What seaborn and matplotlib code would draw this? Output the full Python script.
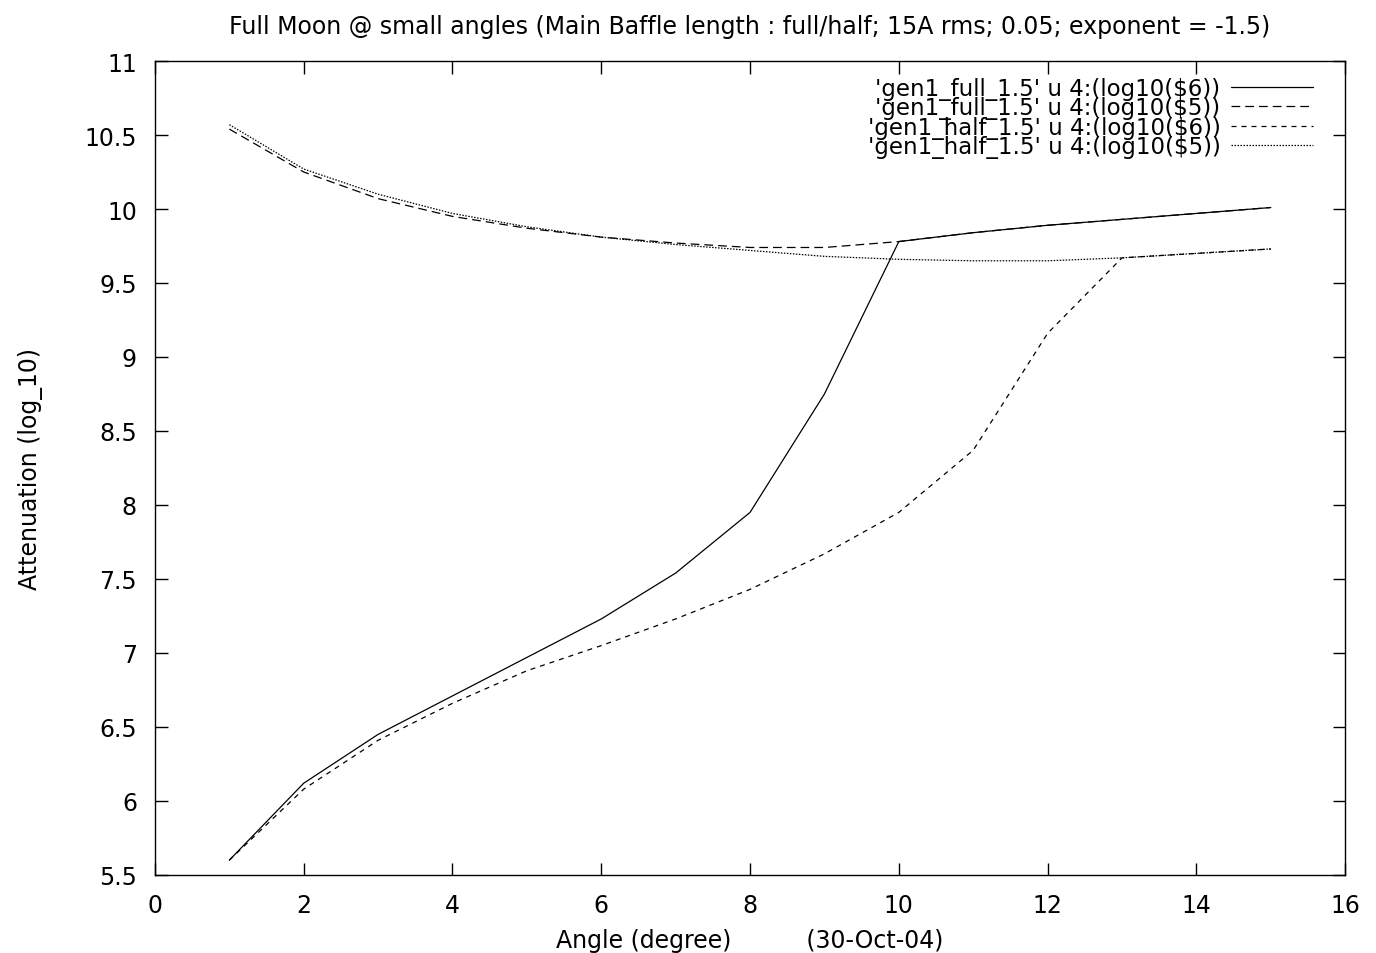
import numpy as np
import pandas as pd
import seaborn as sns
import matplotlib
matplotlib.use("Agg")
import matplotlib.pyplot as plt
from matplotlib.ticker import FuncFormatter, MultipleLocator

# angle in degrees
angle = [1, 2, 3, 4, 5, 6, 7, 8, 9, 10, 11, 12, 13, 14, 15]

# log10 attenuation
full_6 = [5.60, 6.12, 6.45, 6.71, 6.97, 7.23, 7.54, 7.95, 8.75, 9.78, 9.84, 9.89, 9.93, 9.97, 10.01]
full_5 = [10.54, 10.25, 10.07, 9.95, 9.87, 9.81, 9.77, 9.74, 9.74, 9.78, 9.84, 9.89, 9.93, 9.97, 10.01]
half_6 = [5.60, 6.08, 6.41, 6.66, 6.88, 7.05, 7.23, 7.43, 7.67, 7.95, 8.37, 9.16, 9.67, 9.70, 9.73]
half_5 = [10.57, 10.27, 10.10, 9.97, 9.88, 9.81, 9.76, 9.72, 9.68, 9.66, 9.65, 9.65, 9.67, 9.70, 9.73]

labels = ["'gen1_full_1.5' u 4:(log10($6))",
          "'gen1_full_1.5' u 4:(log10($5))",
          "'gen1_half_1.5' u 4:(log10($6))",
          "'gen1_half_1.5' u 4:(log10($5))"]

sns.set_style("ticks")
plt.rcParams['font.family'] = ['DejaVu Sans']
plt.rcParams['text.color'] = 'black'
plt.rcParams['axes.labelcolor'] = 'black'
plt.rcParams['xtick.color'] = 'black'
plt.rcParams['ytick.color'] = 'black'

fig = plt.figure(figsize=(13.76, 9.54), dpi=100)
ax = fig.add_axes([0.1126, 0.0818, 0.865, 0.8532])

series = [full_6, full_5, half_6, half_5]
styles = ['-', (0, (7, 4)), (0, (4, 4)), (0, (1.2, 1.2))]
for s, ls, lab in zip(series, styles, labels):
    sns.lineplot(x=angle, y=s, ax=ax, color='black', linewidth=0.9,
                 linestyle=ls, label=lab)

ax.set_xlim(0, 16)
ax.set_ylim(5.5, 11)
ax.xaxis.set_major_locator(MultipleLocator(2))
ax.yaxis.set_major_locator(MultipleLocator(0.5))
fmt = FuncFormatter(lambda v, p: '%g' % v)
ax.xaxis.set_major_formatter(fmt)
ax.yaxis.set_major_formatter(fmt)
ax.tick_params(direction='in', length=9, width=1, top=True, right=True,
               labelsize=17, pad=13, color='black', labelcolor='black')
for sp in ax.spines.values():
    sp.set_visible(True)
    sp.set_color('black')
    sp.set_linewidth(1)

ax.set_title("Full Moon @ small angles (Main Baffle length : full/half; 15A rms; 0.05; exponent = -1.5)",
             fontsize=17, pad=20, color='black')
ax.set_xlabel("Angle (degree)          (30-Oct-04)", fontsize=17, labelpad=8)
ax.set_ylabel("Attenuation (log_10)", fontsize=17, labelpad=30)

leg = ax.legend(loc='upper right', bbox_to_anchor=(0.981, 0.992), frameon=False,
                markerfirst=False, fontsize=16.5, handlelength=3.6,
                handletextpad=0.45, labelspacing=-0.15, borderaxespad=0)

fig.savefig("out.png", dpi=100)
